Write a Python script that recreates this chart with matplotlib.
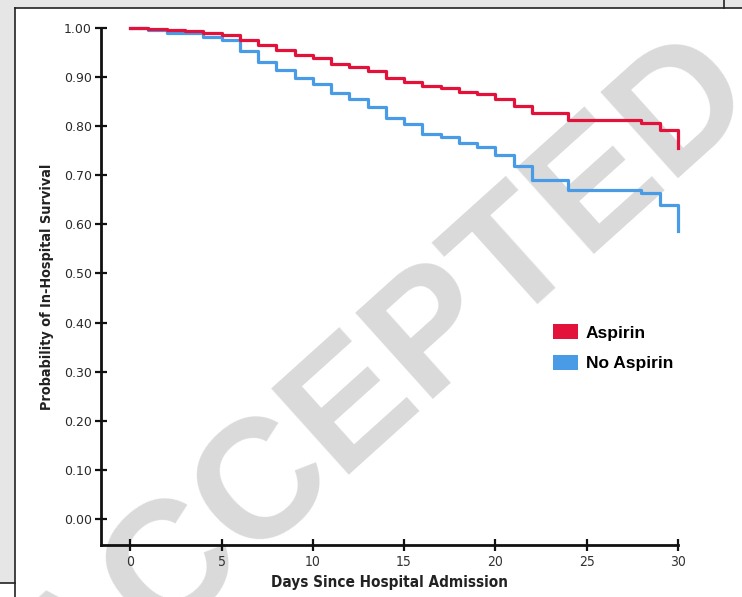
import matplotlib
matplotlib.use('Agg')
import matplotlib.pyplot as plt
from matplotlib.patches import Rectangle, Patch
from matplotlib.lines import Line2D

# ---- data ----
days_aspirin = [0, 1, 2, 3, 4, 5, 6, 7, 8, 9, 10, 11, 12, 13, 14, 15, 16, 17,
                18, 19, 20, 21, 22, 24, 28, 29, 30]
surv_aspirin = [1.000, 0.998, 0.995, 0.993, 0.989, 0.986, 0.976, 0.965, 0.955,
                0.946, 0.938, 0.927, 0.921, 0.912, 0.899, 0.891, 0.882, 0.877,
                0.870, 0.865, 0.855, 0.841, 0.826, 0.813, 0.806, 0.792, 0.755]

days_no_aspirin = [0, 1, 2, 4, 5, 6, 7, 8, 9, 10, 11, 12, 13, 14, 15, 16, 17,
                   18, 19, 20, 21, 22, 24, 28, 29, 30]
surv_no_aspirin = [1.000, 0.996, 0.989, 0.982, 0.975, 0.953, 0.931, 0.915,
                   0.898, 0.886, 0.867, 0.855, 0.839, 0.816, 0.805, 0.784,
                   0.779, 0.765, 0.757, 0.741, 0.718, 0.690, 0.671, 0.663,
                   0.640, 0.587]

series_labels = ["Aspirin", "No Aspirin"]
x_ticks = [0, 5, 10, 15, 20, 25, 30]
y_ticks = [0.0, 0.1, 0.2, 0.3, 0.4, 0.5, 0.6, 0.7, 0.8, 0.9, 1.0]
y_tick_labels = ["0.00", "0.10", "0.20", "0.30", "0.40", "0.50", "0.60",
                 "0.70", "0.80", "0.90", "1.00"]
x_label = "Days Since Hospital Admission"
y_label = "Probability of In-Hospital Survival"
watermark = "ACCEPTED"

RED = '#e2123a'
BLUE = '#4a9be6'

W, H = 742, 597
fig = plt.figure(figsize=(W / 100, H / 100), dpi=100)
fig.patch.set_facecolor('#e6e6e6')

def fx(x):
    return x / W

def fy(y):
    return 1 - y / H

# white page panel
fig.patches.append(Rectangle((fx(15), 0), 1 - fx(15), fy(8), transform=fig.transFigure,
                             facecolor='white', edgecolor='none', zorder=-3))
fig.patches.append(Rectangle((0, 0), fx(15), fy(583), transform=fig.transFigure,
                             facecolor='white', edgecolor='none', zorder=-3))
for (x0, y0, x1, y1) in [(15, 8, 15, 597), (15, 8, 742, 8), (724, 0, 724, 8), (0, 583, 15, 583)]:
    fig.lines.append(Line2D([fx(x0), fx(x1)], [fy(y0), fy(y1)], transform=fig.transFigure,
                            color='#222222', lw=1.2, zorder=-2))

# watermark
fig.text(fx(385), fy(380), watermark, transform=fig.transFigure, fontsize=122,
         fontweight='bold', family=['Liberation Sans', 'DejaVu Sans'],
         color='#dadada', rotation=42, ha='center', va='center',
         rotation_mode='anchor', zorder=-1)

ax = fig.add_axes([fx(101), fy(545), fx(678) - fx(101), fy(28) - fy(545)])
ax.set_facecolor('none')
ax.set_xlim(-1.6, 30)
ax.set_ylim(-0.053, 1.0)

ax.step(days_aspirin, surv_aspirin, where='post', color=RED, lw=2.3, clip_on=False, zorder=3)
ax.step(days_no_aspirin, surv_no_aspirin, where='post', color=BLUE, lw=2.3, clip_on=False, zorder=2)

for s in ['top', 'right']:
    ax.spines[s].set_visible(False)
for s in ['left', 'bottom']:
    ax.spines[s].set_linewidth(2)
    ax.spines[s].set_color('#111111')

ax.set_xticks(x_ticks)
ax.set_yticks(y_ticks)
ax.set_yticklabels(y_tick_labels)
ax.tick_params(axis='both', direction='inout', length=9, width=1.6, color='#111111')
ax.tick_params(axis='y', pad=2, labelsize=9, labelcolor='#2a2a2a')
ax.tick_params(axis='x', pad=3, labelsize=10, labelcolor='#333333')
for lab in ax.get_yticklabels():
    lab.set_family(['DejaVu Sans'])
for lab in ax.get_xticklabels():
    lab.set_family(['DejaVu Sans'])
    lab.set_fontstretch('condensed')

ax.set_xlabel(x_label, fontsize=11, fontweight='bold', color='#222222',
              family=['DejaVu Sans'], fontstretch='condensed', labelpad=4)
ax.set_ylabel(y_label, fontsize=10.4, fontweight='bold', color='#222222',
              family=['DejaVu Sans'], fontstretch='condensed', labelpad=7)

handles = [Patch(facecolor=RED, edgecolor='none'), Patch(facecolor=BLUE, edgecolor='none')]
leg = ax.legend(handles, series_labels, loc='upper left', bbox_to_anchor=(0.783, 0.427),
                frameon=False, handlelength=1.45, handleheight=0.95, borderpad=0,
                borderaxespad=0, handletextpad=0.45, labelspacing=0.8,
                prop={'family': ['Liberation Sans', 'DejaVu Sans'], 'weight': 'bold', 'size': 12.5})

fig.savefig('out.png', dpi=100, facecolor=fig.get_facecolor())
